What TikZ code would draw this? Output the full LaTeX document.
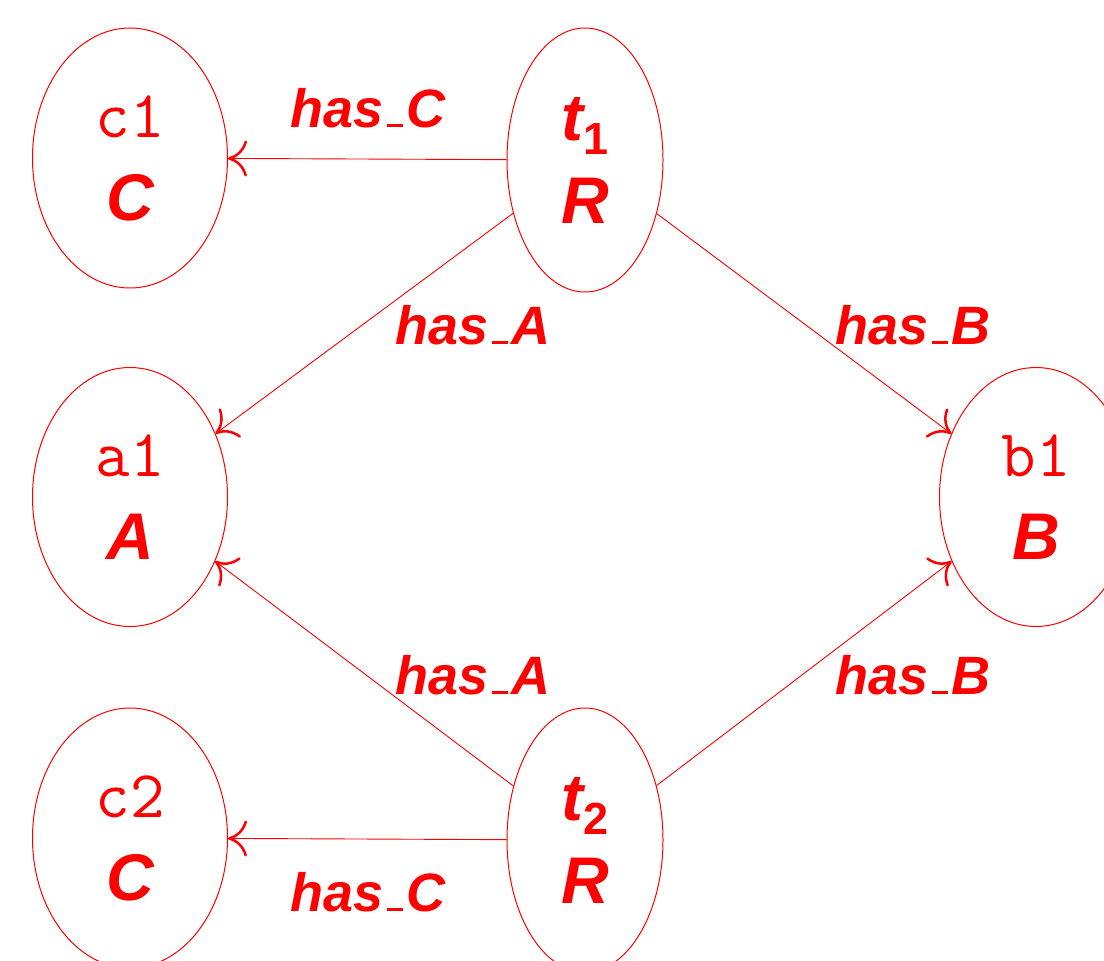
\documentclass[tikz,border=0pt]{standalone}
\usepackage{fontspec}
\setmainfont{Liberation Sans}
\usetikzlibrary{shapes.geometric,arrows.meta}
\newcommand{\myiri}[1]{{\fontsize{67}{62}\selectfont\ttfamily\mdseries\upshape #1}}
\newcommand{\myus}{\kern0.07em\rule{0.28em}{0.055em}\kern0.07em}
\begin{document}
\begin{tikzpicture}[x=1pt,y=-1pt,
  ent/.style={draw=red,line width=1pt,ellipse,inner sep=0pt,text=red,align=center,
    font=\fontsize{66}{83}\selectfont\bfseries\itshape},
  lbl/.style={text=red,inner sep=0pt,font=\fontsize{54}{60}\selectfont\bfseries\itshape},
  rel/.style={draw=red,line width=0.9pt,-{To[length=19pt,width=36pt,line width=2.5pt]}}]
\useasboundingbox (0,0) rectangle (1104,961);
\node[ent,minimum width=195pt,minimum height=260pt] (c1) at (130,158) {\myiri{c1}\\C};
\node[ent,minimum width=195pt,minimum height=259pt] (a1) at (130,497) {\myiri{a1}\\A};
\node[ent,minimum width=195pt,minimum height=260pt] (c2) at (130,838) {\myiri{c2}\\C};
\node[ent,minimum width=193pt,minimum height=259pt] (b1) at (1036,497) {\myiri{b1}\\B};
\node[ent,minimum width=156pt,minimum height=264pt] (t1) at (585,160) {t\raisebox{-0.22em}{\fontsize{45}{45}\selectfont\upshape 1}\\R};
\node[ent,minimum width=156pt,minimum height=264pt] (t2) at (585,840) {t\raisebox{-0.22em}{\fontsize{45}{45}\selectfont\upshape 2}\\R};
\draw[rel] (t1) -- (c1);
\draw[rel] (t1) -- (a1);
\draw[rel] (t1) -- (b1);
\draw[rel] (t2) -- (a1);
\draw[rel] (t2) -- (b1);
\draw[rel] (t2) -- (c2);
\node[lbl] (l1) at (368,108) {has\myus C};
\node[lbl] (l2) at (473,325) {has\myus A};
\node[lbl] (l3) at (913,325) {has\myus B};
\node[lbl] (l4) at (473,675) {has\myus A};
\node[lbl] (l5) at (913,675) {has\myus B};
\node[lbl] (l6) at (368,892) {has\myus C};
\end{tikzpicture}
\end{document}
